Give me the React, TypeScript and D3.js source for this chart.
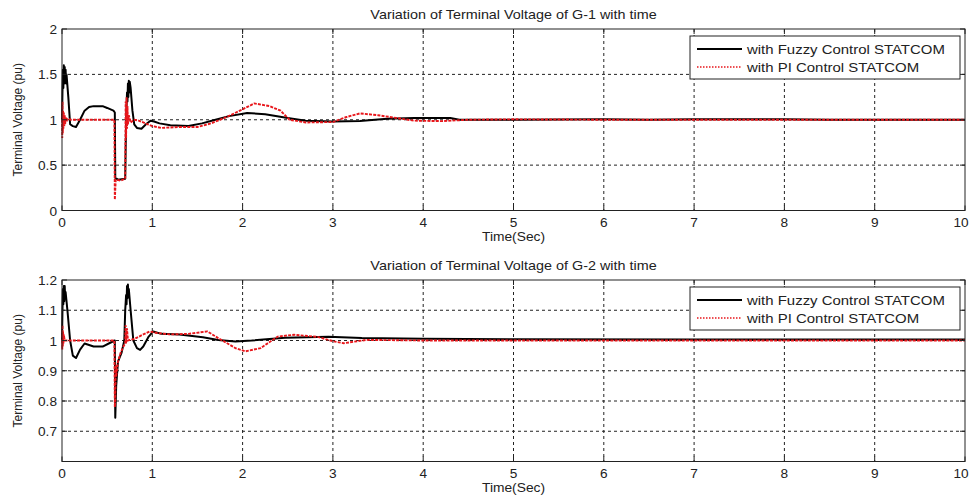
import * as d3 from 'd3';

const W = 971;
const H = 499;
const FONT = '"Liberation Sans", Arial, sans-serif';

// G-1 terminal voltage (time in s, voltage in pu)
const g1FuzzyT = [0, 0.005, 0.01, 0.015, 0.02, 0.025, 0.03, 0.035, 0.04, 0.045, 0.05, 0.07, 0.09, 0.12, 0.155, 0.2, 0.25, 0.3, 0.35, 0.45, 0.5, 0.57, 0.585, 0.59, 0.62, 0.7, 0.71, 0.72, 0.725, 0.73, 0.735, 0.74, 0.745, 0.75, 0.76, 0.78, 0.8, 0.83, 0.88, 0.93, 0.98, 1.02, 1.08, 1.2, 1.4, 1.55, 1.7, 1.85, 2.05, 2.25, 2.5, 2.7, 3.0, 3.3, 3.6, 3.9, 4.3, 4.4, 5, 6, 6.5, 7, 8, 8.5, 10];
const g1FuzzyV = [1.0, 1.3, 1.55, 1.35, 1.6, 1.4, 1.58, 1.42, 1.55, 1.4, 1.5, 1.25, 0.95, 0.93, 0.92, 1.0, 1.1, 1.14, 1.15, 1.15, 1.13, 1.1, 1.08, 0.36, 0.34, 0.35, 1.0, 1.3, 1.2, 1.4, 1.25, 1.43, 1.3, 1.42, 1.35, 1.1, 0.95, 0.91, 0.9, 0.95, 0.99, 0.98, 0.96, 0.94, 0.93, 0.96, 1.0, 1.04, 1.075, 1.06, 1.02, 0.99, 0.98, 0.985, 1.01, 1.02, 1.02, 1.0, 1.0, 1.005, 1.0, 1.005, 1.005, 1.0, 1.0];
const g1PiT = [0, 0.003, 0.006, 0.009, 0.012, 0.015, 0.02, 0.025, 0.03, 0.035, 0.04, 0.05, 0.06, 0.1, 0.58, 0.585, 0.595, 0.65, 0.7, 0.705, 0.71, 0.715, 0.72, 0.725, 0.73, 0.74, 0.76, 0.8, 0.85, 0.9, 0.95, 1.0, 1.1, 1.3, 1.5, 1.65, 1.8, 1.95, 2.13, 2.3, 2.42, 2.52, 2.7, 3.0, 3.15, 3.3, 3.5, 3.7, 3.9, 4.2, 4.5, 5, 6, 7, 10];
const g1PiV = [1.0, 0.8, 1.2, 0.85, 1.1, 0.9, 1.08, 0.93, 1.05, 0.95, 1.03, 0.98, 1.01, 1.0, 1.0, 0.12, 0.34, 0.33, 0.35, 1.2, 0.8, 1.25, 0.9, 1.15, 0.95, 1.05, 0.97, 1.0, 0.99, 0.97, 0.95, 0.93, 0.91, 0.92, 0.92, 0.96, 1.02, 1.09, 1.18, 1.15, 1.1, 1.0, 0.97, 0.975, 1.03, 1.07, 1.05, 1.02, 0.99, 0.985, 1.0, 1.005, 1.0, 1.0, 1.0];

// G-2 terminal voltage
const g2FuzzyT = [0, 0.005, 0.01, 0.015, 0.02, 0.025, 0.03, 0.035, 0.04, 0.06, 0.09, 0.12, 0.155, 0.2, 0.25, 0.3, 0.35, 0.45, 0.55, 0.585, 0.59, 0.6, 0.62, 0.66, 0.69, 0.7, 0.71, 0.715, 0.72, 0.725, 0.73, 0.735, 0.74, 0.76, 0.79, 0.83, 0.865, 0.9, 0.96, 1.01, 1.1, 1.3, 1.56, 1.73, 1.92, 2.1, 2.47, 2.95, 3.32, 4, 5, 7, 10];
const g2FuzzyV = [1.0, 1.1, 1.17, 1.12, 1.18, 1.13, 1.18, 1.14, 1.16, 1.1, 1.0, 0.95, 0.942, 0.97, 0.99, 0.985, 0.98, 0.98, 0.995, 1.0, 0.745, 0.85, 0.93, 0.96, 1.0, 1.1, 1.15, 1.12, 1.18, 1.14, 1.185, 1.15, 1.17, 1.1, 1.0, 0.975, 0.969, 0.98, 1.013, 1.03, 1.022, 1.02, 1.011, 1.002, 0.997, 1.0, 1.009, 1.012, 1.008, 1.006, 1.004, 1.003, 1.003];
const g2PiT = [0, 0.003, 0.006, 0.009, 0.012, 0.016, 0.02, 0.03, 0.58, 0.585, 0.59, 0.595, 0.6, 0.62, 0.65, 0.68, 0.7, 0.705, 0.71, 0.72, 0.73, 0.8, 0.9, 0.97, 1.05, 1.2, 1.4, 1.61, 1.73, 1.92, 2.03, 2.2, 2.39, 2.57, 2.83, 3.01, 3.12, 3.37, 4, 10];
const g2PiV = [1.0, 0.97, 1.05, 0.98, 1.03, 0.99, 1.02, 1.0, 1.0, 0.78, 0.8, 0.92, 0.88, 0.93, 0.96, 0.98, 0.99, 1.05, 0.99, 1.04, 1.0, 1.005, 1.02, 1.03, 1.025, 1.02, 1.022, 1.03, 1.008, 0.975, 0.964, 0.975, 1.013, 1.019, 1.012, 0.997, 0.991, 1.002, 1.0, 1.0];

const xTicks = [0, 1, 2, 3, 4, 5, 6, 7, 8, 9, 10];
const g1Ticks = [0, 0.5, 1, 1.5, 2];
const g2Ticks = [0.7, 0.8, 0.9, 1, 1.1, 1.2];

const legendLabels = ['with Fuzzy Control STATCOM', 'with PI Control STATCOM'];
const RED = '#e8161b';

function Txt({ x, y, anchor = 'middle', size = 13, sx = 1.15, children }) {
  return (
    <text
      transform={`translate(${x},${y}) scale(${sx},1)`}
      textAnchor={anchor}
      fontSize={size}
      fontFamily={FONT}
      fill="#222"
    >
      {children}
    </text>
  );
}

function Panel({ top, bottom, yDomain, yTicks, title, fuzzy, pi }) {
  const left = 62;
  const right = 965;
  const x = d3.scaleLinear().domain([0, 10]).range([left, right]);
  const y = d3.scaleLinear().domain(yDomain).range([bottom, top]);
  const line = d3
    .line<number[]>()
    .x((d) => x(d[0]))
    .y((d) => y(d[1]));

  return (
    <g>
      <rect x={left} y={top} width={right - left} height={bottom - top} fill="#fff" />
      {/* grid */}
      {xTicks.slice(1, -1).map((t) => (
        <line key={'gx' + t} x1={x(t)} x2={x(t)} y1={top} y2={bottom} stroke="#222" strokeDasharray="3,3" />
      ))}
      {yTicks
        .filter((v) => y(v) > top + 1 && y(v) < bottom - 1)
        .map((v) => (
          <line key={'gy' + v} x1={left} x2={right} y1={y(v)} y2={y(v)} stroke="#222" strokeDasharray="3,3" />
        ))}
      {/* series */}
      <path d={line(fuzzy) || ''} fill="none" stroke="#000" strokeWidth={2} strokeLinejoin="round" />
      <path d={line(pi) || ''} fill="none" stroke={RED} strokeWidth={1.9} strokeDasharray="3,1.2" />
      {/* box */}
      <rect x={left} y={top} width={right - left} height={bottom - top} fill="none" stroke="#222" />
      {/* ticks */}
      {xTicks.map((t) => (
        <g key={'tx' + t}>
          <line x1={x(t)} x2={x(t)} y1={bottom} y2={bottom - 5} stroke="#222" />
          <line x1={x(t)} x2={x(t)} y1={top} y2={top + 5} stroke="#222" />
          <Txt x={Math.min(x(t), W - 10)} y={bottom + 16} sx={1.05}>
            {t}
          </Txt>
        </g>
      ))}
      {yTicks.map((v) => (
        <g key={'ty' + v}>
          <line x1={left} x2={left + 5} y1={y(v)} y2={y(v)} stroke="#222" />
          <line x1={right} x2={right - 5} y1={y(v)} y2={y(v)} stroke="#222" />
          <Txt x={left - 5} y={y(v) + 5} anchor="end" sx={1.05}>
            {v}
          </Txt>
        </g>
      ))}
      <Txt x={(left + right) / 2} y={top - 10} size={12.5}>
        {title}
      </Txt>
      <Txt x={(left + right) / 2} y={bottom + 30} size={12}>
        Time(Sec)
      </Txt>
      <text
        transform={`translate(22,${(top + bottom) / 2}) rotate(-90)`}
        textAnchor="middle"
        fontSize={12}
        fontFamily={FONT}
        fill="#222"
      >
        Terminal Voltage (pu)
      </text>
      {/* legend */}
      <rect x={690} y={top + 7} width={270} height={43} fill="#fff" stroke="#222" />
      <line x1={697} x2={742} y1={top + 20} y2={top + 20} stroke="#000" strokeWidth={2} />
      <line x1={697} x2={742} y1={top + 38} y2={top + 38} stroke={RED} strokeWidth={1.5} strokeDasharray="1.5,1.5" />
      <Txt x={747} y={top + 25} anchor="start" size={13}>
        {legendLabels[0]}
      </Txt>
      <Txt x={747} y={top + 43} anchor="start" size={13}>
        {legendLabels[1]}
      </Txt>
    </g>
  );
}

const zip = (t: number[], v: number[]) => t.map((d, i) => [d, v[i]]);

export default function App() {
  return (
    <svg
      width={W}
      height={H}
      style={{ position: 'absolute', left: 0, top: 0, background: '#fff' }}
    >
      <rect width={W} height={H} fill="#fff" />
      <Panel
        top={29}
        bottom={210.5}
        yDomain={[0, 2]}
        yTicks={g1Ticks}
        title="Variation of Terminal Voltage of G-1 with time"
        fuzzy={zip(g1FuzzyT, g1FuzzyV)}
        pi={zip(g1PiT, g1PiV)}
      />
      <Panel
        top={280}
        bottom={461.5}
        yDomain={[0.6, 1.2]}
        yTicks={g2Ticks}
        title="Variation of Terminal Voltage of G-2 with time"
        fuzzy={zip(g2FuzzyT, g2FuzzyV)}
        pi={zip(g2PiT, g2PiV)}
      />
    </svg>
  );
}
